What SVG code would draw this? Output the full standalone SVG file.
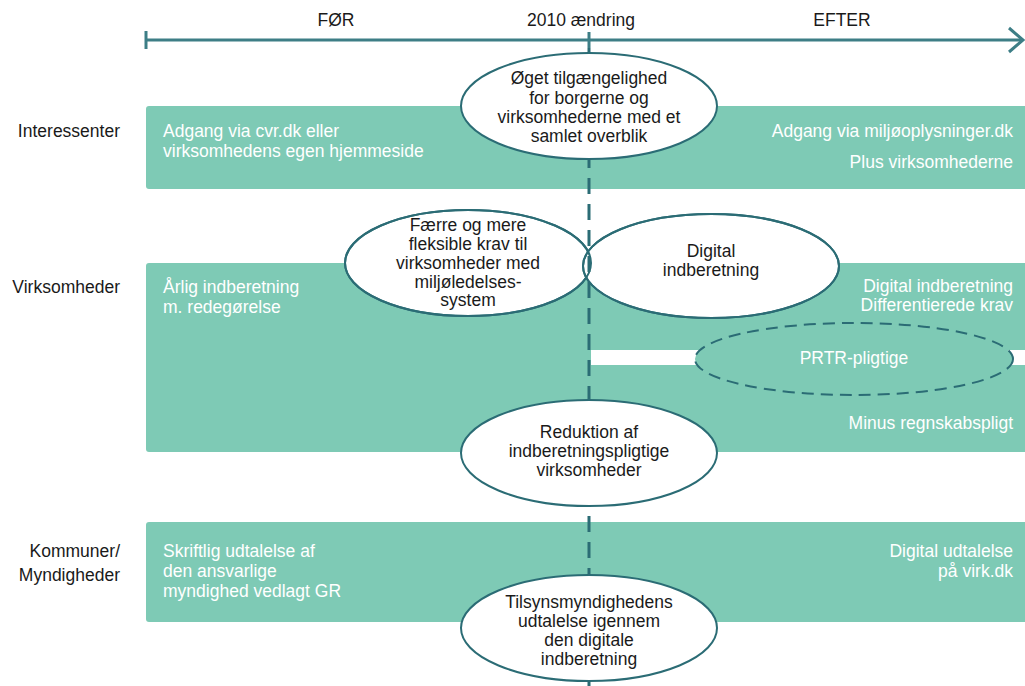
<svg xmlns="http://www.w3.org/2000/svg" width="1025" height="686" viewBox="0 0 1025 686">
<style>
.band{fill:#7ecab5}
.t{font-family:"Liberation Sans",Arial,sans-serif;font-size:17.5px;fill:#1a1a1a}
.w{font-family:"Liberation Sans",Arial,sans-serif;font-size:17.5px;fill:#ffffff}
.m{text-anchor:middle}
.e{text-anchor:end}
.ell{fill:#ffffff;stroke:#2b6c75;stroke-width:2}
.ol{fill:none;stroke:#2b6c75;stroke-width:2}
</style>
<rect width="1025" height="686" fill="#ffffff"/>
<g id="timeline">
<line x1="146" y1="40" x2="1022" y2="40" stroke="#3d7e86" stroke-width="3"/>
<line x1="146" y1="31" x2="146" y2="49" stroke="#3d7e86" stroke-width="3"/>
<line x1="589" y1="32" x2="589" y2="48" stroke="#3d7e86" stroke-width="3"/>
<polyline points="1009,28 1023,40 1009,52" fill="none" stroke="#3d7e86" stroke-width="3"/>
<text class="t m" x="336" y="26">FØR</text>
<text class="t m" x="581" y="26">2010 ændring</text>
<text class="t m" x="842" y="26">EFTER</text>
</g>
<g id="row-labels">
<text class="t e" x="120" y="137">Interessenter</text>
<text class="t e" x="120" y="293">Virksomheder</text>
<text class="t e" x="120" y="557">Kommuner/</text>
<text class="t e" x="120" y="581">Myndigheder</text>
</g>
<g id="band-interessenter">
<rect class="band" x="146" y="106" width="890" height="83" rx="3"/>
<text class="w" x="163" y="137">Adgang via cvr.dk eller</text>
<text class="w" x="163" y="157">virksomhedens egen hjemmeside</text>
<text class="w e" x="1013" y="137">Adgang via miljøoplysninger.dk</text>
<text class="w e" x="1013" y="168">Plus virksomhederne</text>
</g>
<g id="band-virksomheder">
<rect class="band" x="146" y="263" width="890" height="189" rx="3"/>
<rect x="591" y="350" width="440" height="15" fill="#ffffff"/>
<text class="w" x="163" y="293">Årlig indberetning</text>
<text class="w" x="163" y="313">m. redegørelse</text>
<text class="w e" x="1013" y="292">Digital indberetning</text>
<text class="w e" x="1013" y="311">Differentierede krav</text>
<text class="w e" x="1013" y="429">Minus regnskabspligt</text>
</g>
<g id="prtr">
<ellipse cx="854" cy="359" rx="159" ry="36" fill="#7ecab5" stroke="#2b6c75" stroke-width="2" stroke-dasharray="12,7"/>
<text class="w m" x="854" y="364">PRTR-pligtige</text>
</g>
<g id="band-kommuner">
<rect class="band" x="146" y="522" width="890" height="100" rx="3"/>
<text class="w" x="163" y="557">Skriftlig udtalelse af</text>
<text class="w" x="163" y="577">den ansvarlige</text>
<text class="w" x="163" y="597">myndighed vedlagt GR</text>
<text class="w e" x="1013" y="557">Digital udtalelse</text>
<text class="w e" x="1013" y="577">på virk.dk</text>
</g>
<g id="node-faerre">
<ellipse class="ell" cx="468" cy="263" rx="123" ry="53"/>
</g>
<g id="node-digital">
<ellipse class="ell" cx="711" cy="266" rx="128" ry="52"/>
</g>
<g id="connectors">
<line x1="589" y1="48" x2="589" y2="686" stroke="#2b6c75" stroke-width="3" stroke-dasharray="16,10"/>
</g>
<g id="node-faerre-text">
<ellipse class="ol" cx="468" cy="263" rx="123" ry="53"/>
<ellipse class="ol" cx="711" cy="266" rx="128" ry="52"/>
<text class="t m" x="468" y="231">Færre og mere</text>
<text class="t m" x="468" y="250">fleksible krav til</text>
<text class="t m" x="468" y="269">virksomheder med</text>
<text class="t m" x="468" y="288">miljøledelses-</text>
<text class="t m" x="468" y="306">system</text>
<text class="t m" x="711" y="257">Digital</text>
<text class="t m" x="711" y="276">indberetning</text>
</g>
<g id="node-oget">
<ellipse class="ell" cx="589" cy="106" rx="128" ry="53"/>
<text class="t m" x="589" y="84">Øget tilgængelighed</text>
<text class="t m" x="589" y="104">for borgerne og</text>
<text class="t m" x="589" y="123">virksomhederne med et</text>
<text class="t m" x="589" y="142">samlet overblik</text>
</g>
<g id="node-reduktion">
<ellipse class="ell" cx="589" cy="453" rx="128" ry="53"/>
<text class="t m" x="589" y="438">Reduktion af</text>
<text class="t m" x="589" y="457">indberetningspligtige</text>
<text class="t m" x="589" y="476">virksomheder</text>
</g>
<g id="node-tilsyn">
<ellipse class="ell" cx="589" cy="628" rx="128" ry="53"/>
<text class="t m" x="589" y="608">Tilsynsmyndighedens</text>
<text class="t m" x="589" y="627">udtalelse igennem</text>
<text class="t m" x="589" y="646">den digitale</text>
<text class="t m" x="589" y="665">indberetning</text>
</g>
</svg>
